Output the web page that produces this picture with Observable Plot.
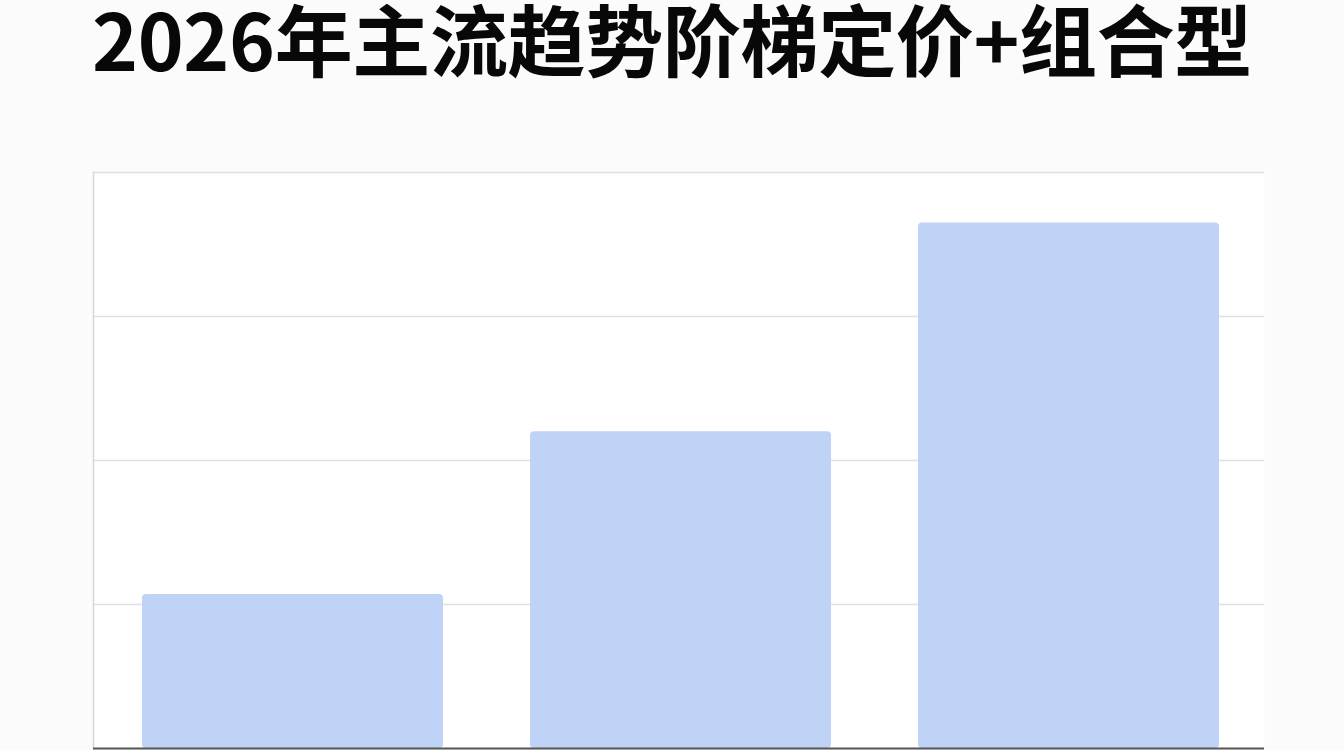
<!DOCTYPE html>
<html>
<head>
<meta charset="utf-8">
<script src="https://cdn.jsdelivr.net/npm/d3@7"></script>
<script src="https://cdn.jsdelivr.net/npm/@observablehq/plot@0.6"></script>
<style>
  html, body { margin: 0; padding: 0; background: #fbfbfb; width: 1344px; height: 750px; overflow: hidden; }
  #title {
    position: relative; height: 100px; overflow: visible;
    font-family: "Noto Sans CJK SC", "Noto Sans", sans-serif;
    font-weight: 700; font-size: 78px; color: #080808;
    white-space: nowrap;
  }
  #title span { display: block; position: absolute; top: 5px; left: 92px; line-height: 64px; height: 64px; }
  #chart svg { display: block; background: transparent; }
</style>
</head>
<body>
<div id="title"><span id="titletext">2026年主流趋势阶梯定价+组合型</span></div>
<div id="chart"></div>
<script>
const categories = ["基础档", "进阶档", "组合档"];
const values = [1.07, 2.2, 3.65];
const yTicks = [0, 1, 2, 3, 4];

// fit the title to the reference span (x 92 → 1252)
const t = document.getElementById("titletext");
const natural = t.getBoundingClientRect().width;
const chars = [...t.textContent].length;
t.style.letterSpacing = ((1160 - natural) / chars) + "px";

const data = categories.map((c, i) => ({category: c, value: values[i]}));

const plot = Plot.plot({
  width: 1344,
  height: 650,
  marginLeft: 93,
  marginRight: 80,
  marginTop: 72,
  marginBottom: 2,
  style: {background: "transparent", fontFamily: "Noto Sans CJK SC, sans-serif"},
  x: {domain: categories, paddingInner: 0.225, paddingOuter: 0.12, align: 0.52, axis: null},
  y: {domain: [0, 4], axis: null},
  marks: [
    Plot.frame({fill: "#ffffff", stroke: null}),
    Plot.gridY(yTicks.filter(d => d > 0), {stroke: "#e0e0e0", strokeOpacity: 1, strokeWidth: 1.3}),
    Plot.frame({anchor: "left", stroke: "#d6d6d6", strokeWidth: 1.5}),
    Plot.barY(data, {x: "category", y: "value", fill: "#bfd3f7", rx: 4}),
    Plot.ruleY([0], {stroke: "#555555", strokeWidth: 2})
  ]
});
document.getElementById("chart").appendChild(plot);
</script>
</body>
</html>
